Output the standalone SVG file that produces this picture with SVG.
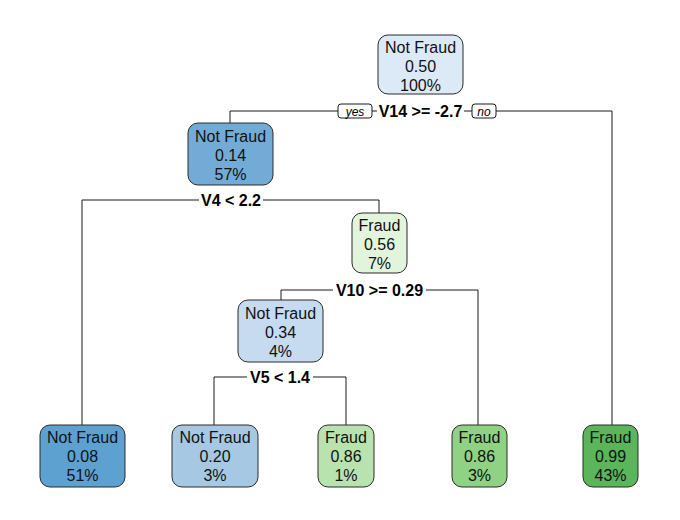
<svg xmlns="http://www.w3.org/2000/svg" width="680" height="520" viewBox="0 0 680 520">
  <style>
    .box { stroke: #2b2b2b; stroke-width: 1; }
    .lbl { font-family: "Liberation Sans", Arial, sans-serif; font-size: 16px; fill: #111; text-anchor: middle; }
    .split { font-family: "Liberation Sans", Arial, sans-serif; font-size: 16px; font-weight: bold; fill: #000; text-anchor: middle; }
    .yn { font-family: "Liberation Sans", Arial, sans-serif; font-size: 12px; font-style: italic; fill: #000; text-anchor: middle; }
    .edge { fill: none; stroke: #1a1a1a; stroke-width: 1; }
    .tag { fill: #fff; stroke: #1a1a1a; stroke-width: 1; }
  </style>
  <rect width="680" height="520" fill="#fff"/>

  <!-- connectors -->
  <g id="connectors">
    <polyline class="edge" points="230,123 230,111 612,111 612,425"/>
    <polyline class="edge" points="82,425 82,200 379,200 379,213"/>
    <polyline class="edge" points="281,300 281,290 478,290 478,425"/>
    <polyline class="edge" points="214,425 214,377 346,377 346,425"/>
  </g>

  <!-- split labels -->
  <g id="split-labels">
    <rect x="377" y="103" width="87" height="16" fill="#fff"/>
    <rect class="tag" x="338" y="104" width="34" height="14" rx="3"/>
    <text class="yn" x="355" y="115.5">yes</text>
    <text class="split" x="420.5" y="117">V14 &gt;= -2.7</text>
    <rect class="tag" x="472" y="104" width="24" height="14" rx="3"/>
    <text class="yn" x="484" y="115.5">no</text>

    <rect x="199" y="192" width="64" height="16" fill="#fff"/>
    <text class="split" x="231" y="206">V4 &lt; 2.2</text>

    <rect x="333" y="282" width="93" height="16" fill="#fff"/>
    <text class="split" x="379.5" y="296">V10 &gt;= 0.29</text>

    <rect x="247" y="369" width="66" height="16" fill="#fff"/>
    <text class="split" x="280" y="383">V5 &lt; 1.4</text>
  </g>

  <!-- nodes -->
  <g id="node-root">
    <rect class="box" x="378" y="35" width="85" height="59" rx="10" fill="#dce9f6"/>
    <text class="lbl" x="420.5" y="53">Not Fraud</text>
    <text class="lbl" x="420.5" y="72">0.50</text>
    <text class="lbl" x="420.5" y="91">100%</text>
  </g>
  <g id="node-2">
    <rect class="box" x="188" y="123" width="85" height="62" rx="10" fill="#72acd6"/>
    <text class="lbl" x="230.5" y="142">Not Fraud</text>
    <text class="lbl" x="230.5" y="161">0.14</text>
    <text class="lbl" x="230.5" y="180">57%</text>
  </g>
  <g id="node-5">
    <rect class="box" x="352" y="213" width="55" height="60" rx="10" fill="#e3f4dd"/>
    <text class="lbl" x="379.5" y="231">Fraud</text>
    <text class="lbl" x="379.5" y="250">0.56</text>
    <text class="lbl" x="379.5" y="269">7%</text>
  </g>
  <g id="node-10">
    <rect class="box" x="238" y="300" width="85" height="62" rx="10" fill="#c6dbef"/>
    <text class="lbl" x="280.5" y="319">Not Fraud</text>
    <text class="lbl" x="280.5" y="338">0.34</text>
    <text class="lbl" x="280.5" y="357">4%</text>
  </g>
  <g id="leaf-4">
    <rect class="box" x="40" y="425" width="85" height="62" rx="10" fill="#5da1d1"/>
    <text class="lbl" x="82.5" y="443">Not Fraud</text>
    <text class="lbl" x="82.5" y="462">0.08</text>
    <text class="lbl" x="82.5" y="481">51%</text>
  </g>
  <g id="leaf-20">
    <rect class="box" x="172" y="425" width="86" height="62" rx="10" fill="#a6c8e3"/>
    <text class="lbl" x="215" y="443">Not Fraud</text>
    <text class="lbl" x="215" y="462">0.20</text>
    <text class="lbl" x="215" y="481">3%</text>
  </g>
  <g id="leaf-21">
    <rect class="box" x="318" y="425" width="56" height="62" rx="10" fill="#b8e3ae"/>
    <text class="lbl" x="346" y="443">Fraud</text>
    <text class="lbl" x="346" y="462">0.86</text>
    <text class="lbl" x="346" y="481">1%</text>
  </g>
  <g id="leaf-11">
    <rect class="box" x="452" y="425" width="55" height="62" rx="10" fill="#8fd283"/>
    <text class="lbl" x="479.5" y="443">Fraud</text>
    <text class="lbl" x="479.5" y="462">0.86</text>
    <text class="lbl" x="479.5" y="481">3%</text>
  </g>
  <g id="leaf-3">
    <rect class="box" x="583" y="425" width="55" height="62" rx="10" fill="#5bb55b"/>
    <text class="lbl" x="610.5" y="443">Fraud</text>
    <text class="lbl" x="610.5" y="462">0.99</text>
    <text class="lbl" x="610.5" y="481">43%</text>
  </g>
</svg>
